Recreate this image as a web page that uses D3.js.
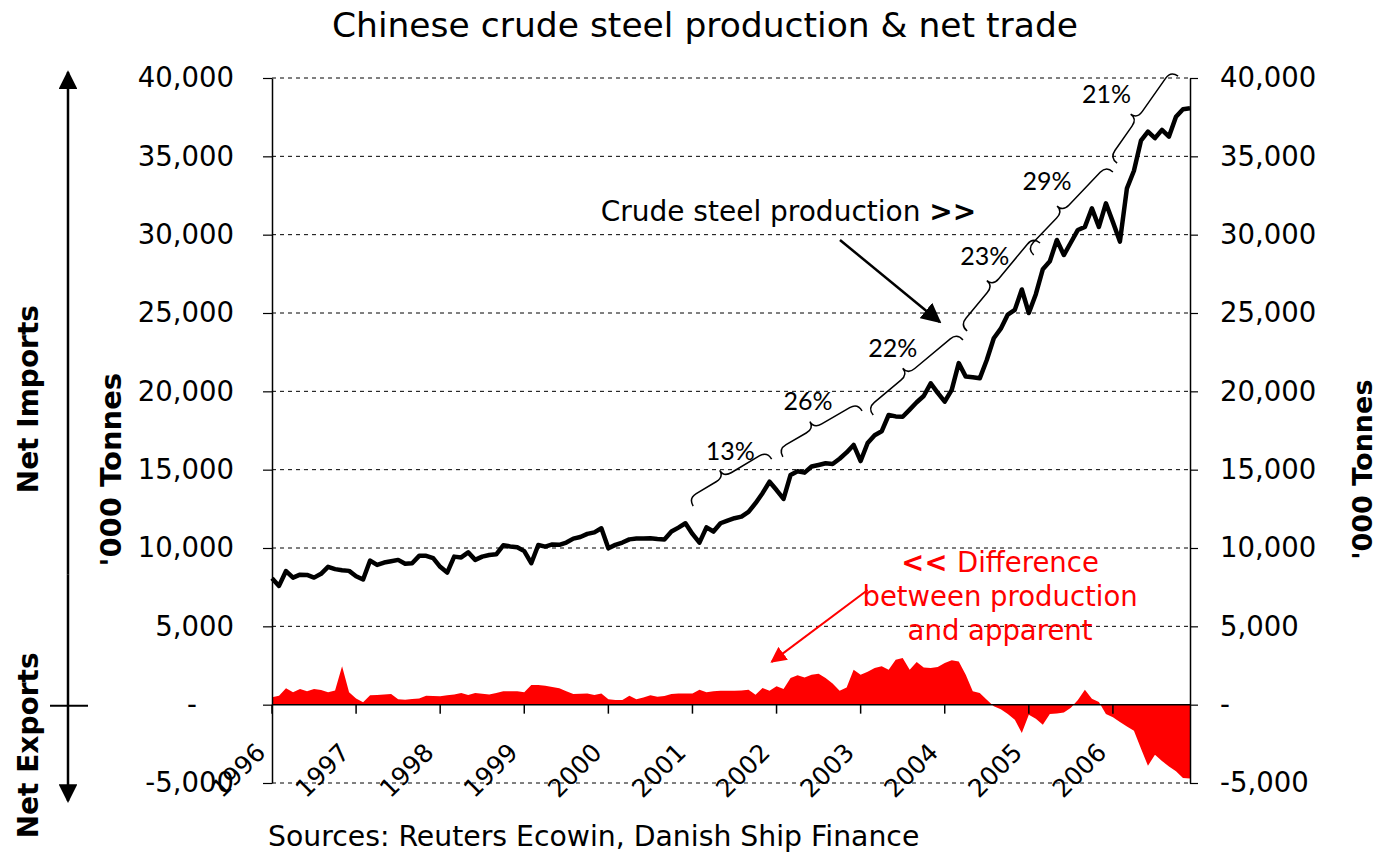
<!DOCTYPE html>
<html><head><meta charset="utf-8">
<script src="https://cdn.jsdelivr.net/npm/d3@7"></script>
<style>body{margin:0;background:#fff} svg{display:block;font-family:"DejaVu Sans",Verdana,sans-serif}</style>
</head><body>
<svg id="chart" width="1378" height="855"></svg>
<script>
// ---------- data ----------
const yearLabels = ["1996","1997","1998","1999","2000","2001","2002","2003","2004","2005","2006"];
const monthsPerYear = 12;
// Crude steel production, '000 tonnes, monthly Jan 1996 - Dec 2006
const production = [
 8070,7580,8530,8110,8300,8280,8110,8350,8800,8650,8580,8540,
 8200,7990,9200,8920,9070,9150,9240,8990,9030,9500,9500,9350,
 8800,8430,9450,9400,9720,9240,9450,9550,9600,10170,10100,10050,
 9800,9030,10190,10090,10230,10200,10350,10600,10700,10900,11000,11260,
 9980,10200,10350,10550,10600,10600,10620,10580,10550,11050,11300,11580,
 10900,10340,11320,11050,11580,11750,11900,12000,12300,12860,13500,14230,
 13700,13130,14660,14900,14810,15200,15300,15410,15360,15700,16100,16580,
 15550,16700,17200,17450,18490,18400,18380,18830,19300,19700,20510,19900,
 19340,20090,21800,20940,20900,20830,22000,23390,24000,24900,25200,26500,
 25000,26200,27800,28300,29660,28700,29500,30300,30500,31680,30500,32000,
 30800,29560,32960,34080,36000,36580,36160,36690,36260,37530,38010,38070];
// Difference between production and apparent consumption (net trade)
const netTrade = [
 470,570,1040,800,1000,850,1000,940,800,900,2450,800,
 400,150,600,620,650,680,350,320,360,400,570,550,
 530,600,650,740,620,740,700,650,750,850,850,850,
 800,1250,1250,1210,1120,1040,850,680,700,720,620,720,
 350,300,300,574,350,450,600,500,550,680,720,720,
 720,950,800,850,893,893,893,900,957,640,1060,890,
 1170,1000,1700,1870,1740,1910,1980,1700,1350,890,1100,2230,
 1910,2100,2340,2450,2230,2870,2980,2230,2720,2380,2340,2400,
 2660,2830,2750,1910,850,744,320,-100,-300,-600,-957,-1810,
 -640,-900,-1280,-600,-560,-500,-200,300,957,380,170,-600,
 -810,-1100,-1400,-1660,-2800,-3900,-3190,-3600,-3940,-4250,-4680,-4720];
const yTicks = [-5000,0,5000,10000,15000,20000,25000,30000,35000,40000];
// growth annotations: label, brace start [month, value], brace end, label position
const growthLabels = ["13%","26%","22%","23%","29%","21%"];
const braceStart = [[60.1,12680],[72.9,15810],[85.8,18490],[99.2,23850],[108.7,28700],[120.6,34570]];
const braceEnd   = [[71.3,15680],[84.2,18750],[98.6,23280],[109.6,29470],[120.0,34000],[129.3,40120]];
const labelPos   = [[65.4,16260],[76.5,19450],[88.6,22830],[101.7,28700],[110.6,33490],[119.1,39040]];
const prodNote = {text:"Crude steel production ", bold:">>", at:[46.9,30870], arrowFrom:[81.05,29660], arrowTo:[95.3,24430]};
const tradeNote = {lines:["Difference","between production","and apparent"], at:[103.9,8470], arrowFrom:[85.0,7320], arrowTo:[71.3,2730]};

// ---------- layout ----------
const svg = d3.select("#chart");
const x = d3.scaleLinear().domain([0, production.length - 1]).range([272, 1190]);
const y = d3.scaleLinear().domain([-5000, 40000]).range([783, 78]);
const fmt = v => v === 0 ? "-" : d3.format(",")(v).replace("−","-");

const defs = svg.append("defs");
function marker(id, color, size){
  defs.append("marker").attr("id", id).attr("viewBox","0 0 10 10").attr("refX",9).attr("refY",5)
    .attr("markerWidth",size).attr("markerHeight",size).attr("orient","auto")
    .append("path").attr("d","M0,0 L10,5 L0,10 z").attr("fill",color);
}
marker("arrBlack","#000",8); marker("arrRed","#ff0000",8); marker("arrAxis","#000",7.5);

// gridlines
svg.append("g").selectAll("line").data(yTicks.filter(d => d !== 0)).join("line")
  .attr("x1", x(0)).attr("x2", x(production.length - 1))
  .attr("y1", d => y(d)).attr("y2", d => y(d))
  .attr("stroke", "#000").attr("stroke-width", 1).attr("stroke-dasharray", "4,4");

// net trade area
svg.append("path").datum(netTrade)
  .attr("fill", "#ff0000")
  .attr("d", d3.area().x((d, i) => x(i)).y0(y(0)).y1(d => y(d)));

// zero line
svg.append("line").attr("x1", x(0)).attr("x2", x(production.length - 1))
  .attr("y1", y(0)).attr("y2", y(0)).attr("stroke", "#000").attr("stroke-width", 1.5);

// x ticks
const yearIdx = yearLabels.map((d, i) => i * monthsPerYear);
svg.append("g").selectAll("line").data(yearIdx).join("line")
  .attr("x1", d => x(d)).attr("x2", d => x(d)).attr("y1", y(0)).attr("y2", y(0) + 9)
  .attr("stroke", "#000").attr("stroke-width", 1.5);
svg.append("g").selectAll("text").data(yearLabels).join("text")
  .attr("transform", (d, i) => `translate(${x(yearIdx[i]) - 5},754) rotate(-45)`)
  .attr("text-anchor", "end").attr("font-size", 25).attr("fill", "#000").text(d => d);

// production line
svg.append("path").datum(production)
  .attr("fill", "none").attr("stroke", "#000").attr("stroke-width", 4.5).attr("stroke-linejoin", "round")
  .attr("d", d3.line().x((d, i) => x(i)).y(d => y(d)));

// axes
const left = svg.append("g").attr("transform", `translate(${x(0)},0)`)
  .call(d3.axisLeft(y).tickValues(yTicks).tickFormat(fmt).tickSize(9).tickSizeOuter(0).tickPadding(29));
const right = svg.append("g").attr("transform", `translate(${x(production.length - 1)},0)`)
  .call(d3.axisRight(y).tickValues(yTicks).tickFormat(fmt).tickSize(8).tickSizeOuter(0).tickPadding(22));
[left, right].forEach(g => {
  g.select(".domain").attr("stroke-width", 1.5);
  g.selectAll(".tick line").attr("stroke-width", 1.2);
  g.selectAll("text").attr("font-size", 27.5).attr("font-family", '"DejaVu Sans",Verdana,sans-serif').attr("fill", "#000");
});
left.selectAll(".tick text").filter(d => d === 0).attr("x", -75);

// title & source
svg.append("text").attr("x", 705).attr("y", 37).attr("text-anchor", "middle")
  .attr("font-size", 34.5).text("Chinese crude steel production & net trade");
svg.append("text").attr("x", 268).attr("y", 846).attr("font-size", 28.3)
  .text("Sources: Reuters Ecowin, Danish Ship Finance");

// axis titles
svg.append("text").attr("transform", `translate(111,${y(15000)}) rotate(-90)`)
  .attr("text-anchor", "middle").attr("dominant-baseline", "central")
  .attr("font-size", 29).attr("font-weight", "bold").text("'000 Tonnes");
svg.append("text").attr("transform", `translate(1362,${y(15000)}) rotate(-90)`)
  .attr("text-anchor", "middle").attr("dominant-baseline", "central")
  .attr("font-size", 27).attr("font-weight", "bold").text("'000 Tonnes");
svg.append("text").attr("transform", `translate(28,${y(19500)}) rotate(-90)`)
  .attr("text-anchor", "middle").attr("dominant-baseline", "central")
  .attr("font-size", 28).attr("font-weight", "bold").text("Net Imports");
svg.append("text").attr("transform", `translate(28,${y(-2600)}) rotate(-90)`)
  .attr("text-anchor", "middle").attr("dominant-baseline", "central")
  .attr("font-size", 28).attr("font-weight", "bold").text("Net Exports");

// left import/export arrows
const ax = 68;
svg.append("line").attr("x1", ax).attr("x2", ax).attr("y1", y(0) - 130).attr("y2", y(40000) - 6)
  .attr("stroke", "#000").attr("stroke-width", 2.5).attr("marker-end", "url(#arrAxis)");
svg.append("line").attr("x1", ax).attr("x2", ax).attr("y1", y(0) - 130).attr("y2", y(-5000) + 18)
  .attr("stroke", "#000").attr("stroke-width", 2.5).attr("marker-end", "url(#arrAxis)");
svg.append("line").attr("x1", 50).attr("x2", 88).attr("y1", y(0) + 1).attr("y2", y(0) + 1)
  .attr("stroke", "#000").attr("stroke-width", 2);

// annotation: production
const pn = svg.append("text").attr("x", x(prodNote.at[0])).attr("y", y(prodNote.at[1]))
  .attr("font-size", 28).attr("fill", "#000");
pn.append("tspan").text(prodNote.text);
pn.append("tspan").attr("font-weight", "bold").text(prodNote.bold);
svg.append("line").attr("x1", x(prodNote.arrowFrom[0])).attr("y1", y(prodNote.arrowFrom[1]))
  .attr("x2", x(prodNote.arrowTo[0])).attr("y2", y(prodNote.arrowTo[1]))
  .attr("stroke", "#000").attr("stroke-width", 2.5).attr("marker-end", "url(#arrBlack)");

// annotation: net trade
const tn = svg.append("text").attr("text-anchor", "middle").attr("font-size", 27.5).attr("fill", "#ff0000");
tradeNote.lines.forEach((l, i) => {
  const t = tn.append("tspan").attr("x", x(tradeNote.at[0])).attr("y", y(tradeNote.at[1]) + i * 34);
  if (i === 0) { t.append("tspan").attr("font-weight", "bold").text("<< "); }
  t.append("tspan").text(l);
});
svg.append("line").attr("x1", x(tradeNote.arrowFrom[0])).attr("y1", y(tradeNote.arrowFrom[1]))
  .attr("x2", x(tradeNote.arrowTo[0])).attr("y2", y(tradeNote.arrowTo[1]))
  .attr("stroke", "#ff0000").attr("stroke-width", 2).attr("marker-end", "url(#arrRed)");

// braces
function bracePath(L, hook, tip, t) {
  const h = -hook, k = -(hook + tip), r = Math.min(9, L * 0.12), m = t * L;
  return `M0,0 Q0,${h} ${r},${h} L${m - r},${h} Q${m},${h} ${m},${k} Q${m},${h} ${m + r},${h} L${L - r},${h} Q${L},${h} ${L},0`;
}
growthLabels.forEach((lab, i) => {
  const p1 = [x(braceStart[i][0]), y(braceStart[i][1])];
  const p2 = [x(braceEnd[i][0]), y(braceEnd[i][1])];
  const L = Math.hypot(p2[0] - p1[0], p2[1] - p1[1]);
  const ang = Math.atan2(p2[1] - p1[1], p2[0] - p1[0]) * 180 / Math.PI;
  svg.append("path").attr("transform", `translate(${p1[0]},${p1[1]}) rotate(${ang})`)
    .attr("d", bracePath(L, 9, 8, 0.45)).attr("fill", "none").attr("stroke", "#000").attr("stroke-width", 1.5);
  svg.append("text").attr("x", x(labelPos[i][0])).attr("y", y(labelPos[i][1]))
    .attr("text-anchor", "middle").attr("dominant-baseline", "central")
    .attr("font-family", "Lato, 'Open Sans', sans-serif").attr("font-size", 25).attr("fill", "#000").text(lab);
});
</script>
</body></html>
